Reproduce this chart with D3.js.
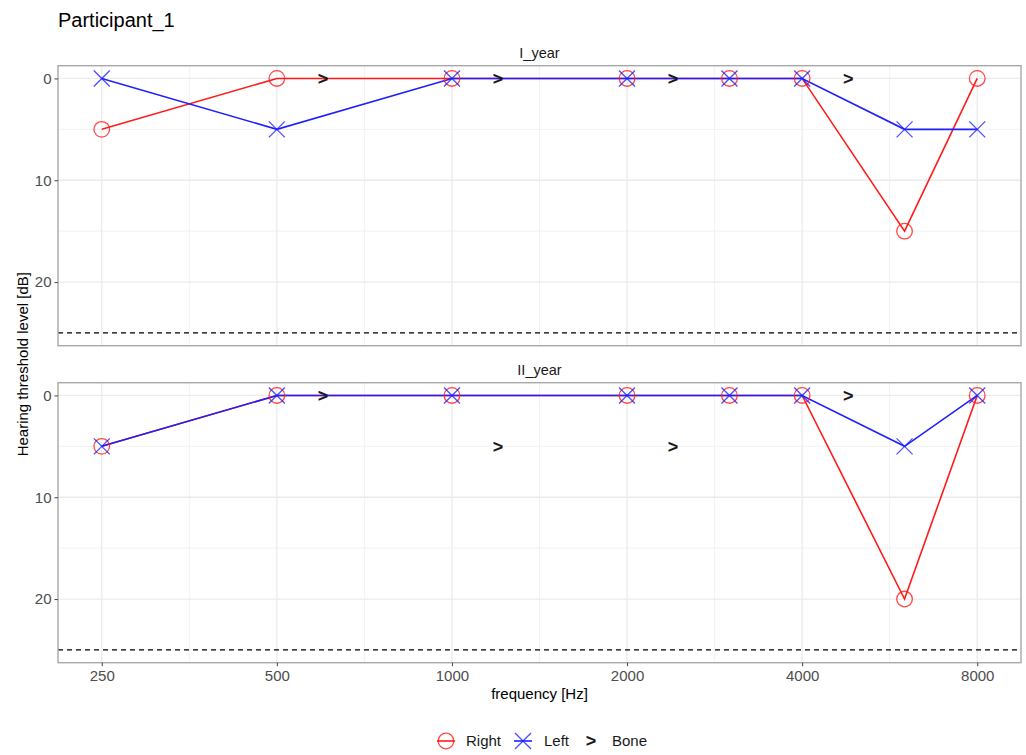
<!DOCTYPE html>
<html>
<head>
<meta charset="utf-8">
<script src="https://cdn.jsdelivr.net/npm/d3@7"></script>
<style>
  body { margin: 0; background: #fff; }
  svg { display: block; font-family: "Liberation Sans", Arial, sans-serif; }
</style>
</head>
<body>
<svg id="chart" width="1026" height="755"></svg>
<script>
// Audiogram for one participant, two yearly sessions
const title = "Participant_1";
const panels = ["I_year", "II_year"];
const freqs = [250, 500, 1000, 2000, 3000, 4000, 6000, 8000];
const xTicks = [250, 500, 1000, 2000, 4000, 8000];
const yTicks = [0, 10, 20];

// Air conduction thresholds (dB) per panel
const rightI  = [5, 0, 0, 0, 0, 0, 15, 0];
const leftI   = [0, 5, 0, 0, 0, 0, 5, 5];
const rightII = [5, 0, 0, 0, 0, 0, 20, 0];
const leftII  = [5, 0, 0, 0, 0, 0, 5, 0];

// Bone conduction thresholds
const boneFreqs = [500, 1000, 2000, 4000];
const boneI  = [0, 0, 0, 0];
const boneII = [0, 5, 5, 0];

const refLevel = 25;          // dashed reference line
const boneNudge = 1.2;        // bone symbols drawn slightly right of their frequency

const seriesByPanel = {
  I_year:  { right: rightI,  left: leftI,  bone: boneI },
  II_year: { right: rightII, left: leftII, bone: boneII }
};

const RED = "#ff1a1a", BLUE = "#2020ff";
const svg = d3.select("#chart");

const panelLeft = 58, panelRight = 1021;
const panelTops = [65.7, 382.7], panelH = 280;

const x = d3.scaleLog().base(2)
  .domain([250 / Math.pow(2, 0.25), 8000 * Math.pow(2, 0.25)])
  .range([panelLeft, panelRight]);

// minor gridlines sit halfway (in log space) between major ticks
const xMinor = d3.pairs(xTicks).map(([a, b]) => Math.sqrt(a * b));
const yMinor = [5, 15, 25];

svg.append("text").attr("x", 58).attr("y", 27)
  .attr("font-size", 20).attr("fill", "#000").text(title);

panels.forEach((name, i) => {
  const top = panelTops[i];
  const y = d3.scaleLinear().domain([-1.25, 26.25]).range([top, top + panelH]);
  const g = svg.append("g");
  const data = seriesByPanel[name];

  // strip label
  g.append("text").attr("x", (panelLeft + panelRight) / 2).attr("y", top - 8)
    .attr("text-anchor", "middle").attr("font-size", 14.5).attr("fill", "#1a1a1a").text(name);

  // grid
  g.selectAll(".vminor").data(xMinor).join("line")
    .attr("x1", d => x(d)).attr("x2", d => x(d)).attr("y1", top).attr("y2", top + panelH)
    .attr("stroke", "#f2f2f2").attr("stroke-width", 1);
  g.selectAll(".hminor").data(yMinor).join("line")
    .attr("x1", panelLeft).attr("x2", panelRight).attr("y1", d => y(d)).attr("y2", d => y(d))
    .attr("stroke", "#f2f2f2").attr("stroke-width", 1);
  g.selectAll(".vmajor").data(xTicks).join("line")
    .attr("x1", d => x(d)).attr("x2", d => x(d)).attr("y1", top).attr("y2", top + panelH)
    .attr("stroke", "#ebebeb").attr("stroke-width", 1.3);
  g.selectAll(".hmajor").data(yTicks).join("line")
    .attr("x1", panelLeft).attr("x2", panelRight).attr("y1", d => y(d)).attr("y2", d => y(d))
    .attr("stroke", "#ebebeb").attr("stroke-width", 1.3);

  // dashed reference line
  g.append("line").attr("x1", panelLeft).attr("x2", panelRight)
    .attr("y1", y(refLevel)).attr("y2", y(refLevel))
    .attr("stroke", "#000").attr("stroke-width", 1.3).attr("stroke-dasharray", "5,4");

  const line = d3.line().x((d, j) => x(freqs[j])).y(d => y(d));

  // right ear
  g.append("path").datum(data.right).attr("d", line)
    .attr("fill", "none").attr("stroke", RED).attr("stroke-width", 1.6);
  // left ear
  g.append("path").datum(data.left).attr("d", line)
    .attr("fill", "none").attr("stroke", BLUE).attr("stroke-width", 1.6);

  g.selectAll(".circ").data(data.right).join("circle")
    .attr("cx", (d, j) => x(freqs[j])).attr("cy", d => y(d)).attr("r", 7.8)
    .attr("fill", "none").attr("stroke", RED).attr("stroke-opacity", 0.8).attr("stroke-width", 1.3);

  const cross = g.selectAll(".cross").data(data.left).join("g")
    .attr("transform", (d, j) => `translate(${x(freqs[j])},${y(d)})`)
    .attr("stroke", BLUE).attr("stroke-opacity", 0.8).attr("stroke-width", 1.3);
  cross.append("line").attr("x1", -8).attr("y1", -8).attr("x2", 8).attr("y2", 8);
  cross.append("line").attr("x1", -8).attr("y1", 8).attr("x2", 8).attr("y2", -8);

  // bone conduction symbols
  g.selectAll(".bone").data(data.bone).join("text")
    .attr("x", (d, j) => x(boneFreqs[j] * boneNudge)).attr("y", d => y(d))
    .attr("text-anchor", "middle").attr("dy", "0.36em")
    .attr("font-size", 18).attr("font-weight", "bold").attr("fill", "#1a1a1a").text(">");

  // panel border
  g.append("rect").attr("x", panelLeft).attr("y", top).attr("width", panelRight - panelLeft).attr("height", panelH)
    .attr("fill", "none").attr("stroke", "#a8a8a8").attr("stroke-width", 1.4);

  // y axis
  const yAxis = g.append("g").attr("transform", `translate(${panelLeft},0)`)
    .call(d3.axisLeft(y).tickValues(yTicks).tickSize(3.5).tickPadding(3));
  yAxis.select(".domain").remove();
  yAxis.selectAll("line").attr("stroke", "#444");
  yAxis.selectAll("text").attr("font-size", 15).attr("fill", "#4d4d4d").attr("font-family", null);

  if (i === panels.length - 1) {
    const xAxis = g.append("g").attr("transform", `translate(0,${top + panelH})`)
      .call(d3.axisBottom(x).tickValues(xTicks).tickFormat(d3.format("d")).tickSize(3.5).tickPadding(4));
    xAxis.select(".domain").remove();
    xAxis.selectAll("line").attr("stroke", "#444");
    xAxis.selectAll("text").attr("font-size", 15).attr("fill", "#4d4d4d").attr("font-family", null);
  }
});

// axis titles
svg.append("text").attr("x", (panelLeft + panelRight) / 2).attr("y", 699)
  .attr("text-anchor", "middle").attr("font-size", 15).attr("fill", "#000").text("frequency [Hz]");
svg.append("text").attr("transform", `translate(27.5,${(panelTops[0] + panelTops[1] + panelH) / 2}) rotate(-90)`)
  .attr("text-anchor", "middle").attr("font-size", 15).attr("fill", "#000").text("Hearing threshold level [dB]");

// legend
const legendItems = [
  { label: "Right", key: "circle", cx: 446, tx: 466 },
  { label: "Left", key: "cross", cx: 523, tx: 544 },
  { label: "Bone", key: "bone", cx: 591, tx: 612 }
];
const ly = 741;
legendItems.forEach(it => {
  const lg = svg.append("g");
  if (it.key === "circle") {
    lg.append("line").attr("x1", it.cx - 9).attr("x2", it.cx + 9).attr("y1", ly).attr("y2", ly)
      .attr("stroke", RED).attr("stroke-width", 1.6);
    lg.append("circle").attr("cx", it.cx).attr("cy", ly).attr("r", 7.8)
      .attr("fill", "none").attr("stroke", RED).attr("stroke-opacity", 0.8).attr("stroke-width", 1.3);
  } else if (it.key === "cross") {
    lg.append("line").attr("x1", it.cx - 9).attr("x2", it.cx + 9).attr("y1", ly).attr("y2", ly)
      .attr("stroke", BLUE).attr("stroke-width", 1.6);
    const c = lg.append("g").attr("stroke", BLUE).attr("stroke-opacity", 0.8).attr("stroke-width", 1.3);
    c.append("line").attr("x1", it.cx - 8).attr("y1", ly - 8).attr("x2", it.cx + 8).attr("y2", ly + 8);
    c.append("line").attr("x1", it.cx - 8).attr("y1", ly + 8).attr("x2", it.cx + 8).attr("y2", ly - 8);
  } else {
    lg.append("text").attr("x", it.cx).attr("y", ly).attr("dy", "0.36em").attr("text-anchor", "middle")
      .attr("font-size", 18).attr("font-weight", "bold").attr("fill", "#1a1a1a").text(">");
  }
  lg.append("text").attr("x", it.tx).attr("y", ly).attr("dy", "0.35em")
    .attr("font-size", 15).attr("fill", "#1a1a1a").text(it.label);
});
</script>
</body>
</html>
